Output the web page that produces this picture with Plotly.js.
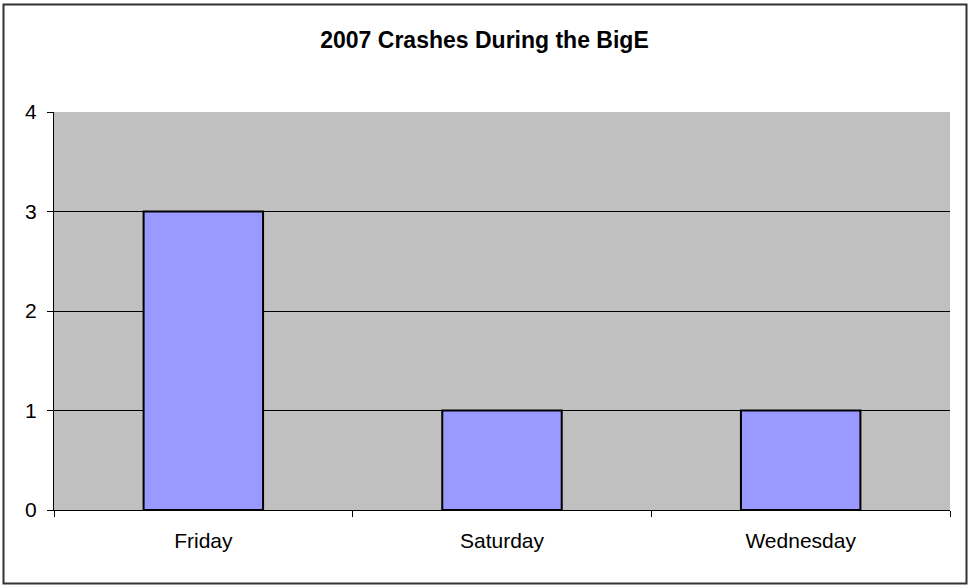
<!DOCTYPE html>
<html>
<head>
<meta charset="utf-8">
<script src="https://cdn.plot.ly/plotly-3.0.1.min.js"></script>
<style>html,body{margin:0;padding:0;background:#fff;}</style>
</head>
<body>
<div id="chart" style="width:969px;height:586px;"></div>
<script>
const days = ["Friday", "Saturday", "Wednesday"];
const crashes = [3, 1, 1];
const yTicks = [0, 1, 2, 3, 4];

const W = 969, H = 586;
const L = 54, R = 19, T = 112, B = 76;
const pw = W - L - R, ph = H - T - B;
function px(x){ return (x - L) / pw; }
function py(y){ return (H - B - y) / ph; }

Plotly.newPlot('chart', [{
  type: 'bar',
  x: days,
  y: crashes,
  marker: {color: '#9999FF', line: {color: '#000000', width: 2}},
  hoverinfo: 'x+y'
}], {
  width: W, height: H,
  margin: {l: L, r: R, t: T, b: B, pad: 0},
  paper_bgcolor: '#ffffff',
  plot_bgcolor: '#C0C0C0',
  bargap: 0.6,
  font: {family: 'Liberation Sans, Arial, sans-serif', size: 20, color: '#000'},
  title: {text: '<b>2007 Crashes During the BigE</b>', font: {size: 23, color: '#000'}, x: 0.5, xanchor: 'center', y: 1 - 40/H, yanchor: 'middle'},
  xaxis: {
    type: 'category',
    tickson: 'boundaries',
    ticks: 'outside', ticklen: 6, tickcolor: '#000', tickwidth: 1,
    showline: true, linecolor: '#000', linewidth: 1,
    showgrid: false, zeroline: false,
    tickfont: {size: 21},
    ticklabelstandoff: 12
  },
  yaxis: {
    range: [0, 4],
    tickvals: yTicks,
    ticks: 'outside', ticklen: 6, tickcolor: '#000', tickwidth: 1,
    showline: true, linecolor: '#000', linewidth: 1,
    showgrid: true, gridcolor: '#000', gridwidth: 1,
    zeroline: false,
    tickfont: {size: 21},
    ticklabelstandoff: 6
  },
  shapes: [{
    type: 'rect', xref: 'paper', yref: 'paper',
    x0: px(3.5), x1: px(966.5), y0: py(583.5), y1: py(4.5),
    line: {color: '#333333', width: 2}, fillcolor: 'rgba(0,0,0,0)', layer: 'below'
  }],
  showlegend: false
}, {displayModeBar: false});
</script>
</body>
</html>
